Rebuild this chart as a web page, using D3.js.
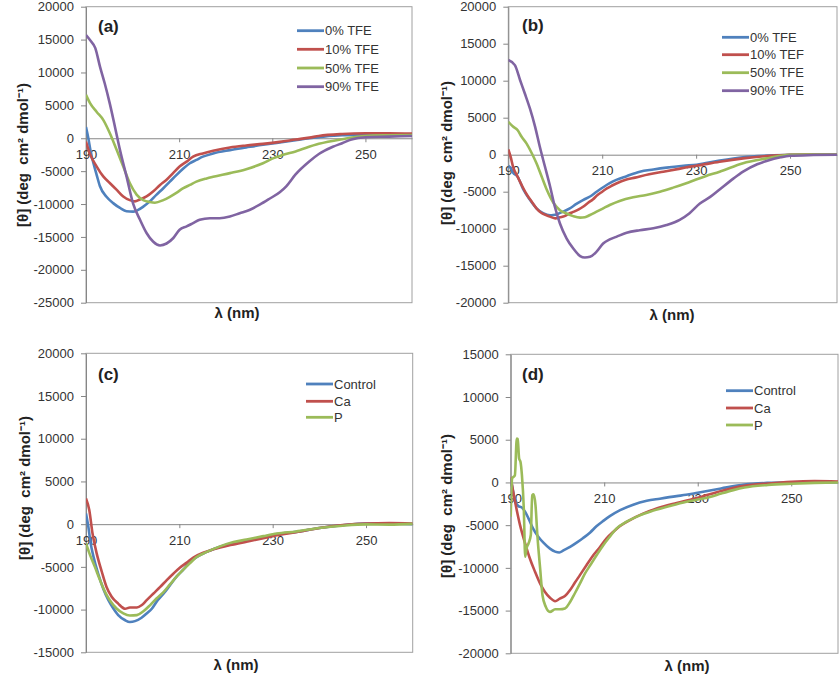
<!DOCTYPE html>
<html><head><meta charset="utf-8">
<script src="https://cdn.jsdelivr.net/npm/d3@7"></script>
<style>
body{margin:0;background:#fff;}
svg{display:block;font-family:"Liberation Sans",Arial,sans-serif;}
</style></head>
<body><svg id="c" width="840" height="675"></svg>
<script>
// ---------------- DATA ----------------
const xTicks = [190, 210, 230, 250];
const xDomain = [190, 260];

const aNames = ["0% TFE", "10% TFE", "50% TFE", "90% TFE"];
const bNames = ["0% TFE", "10% TEF", "50% TFE", "90% TFE"];
const cNames = ["Control", "Ca", "P"];
const dNames = ["Control", "Ca", "P"];

const aYTicks = [20000,15000,10000,5000,0,-5000,-10000,-15000,-20000,-25000];
const bYTicks = [20000,15000,10000,5000,0,-5000,-10000,-15000,-20000];
const cYTicks = [20000,15000,10000,5000,0,-5000,-10000,-15000];
const dYTicks = [15000,10000,5000,0,-5000,-10000,-15000,-20000];

const aBlue = [[190,1700],[190.5,0],[191,-2000],[191.6,-3800],[192.3,-5600],[193,-7300],[194.4,-8900],[195.9,-9900],[197.3,-10600],[198.7,-11100],[200.1,-11150],[200.9,-11000],[202.3,-10400],[203.7,-9600],[205.1,-8600],[206.6,-7600],[208,-6600],[209.4,-5600],[210.9,-4600],[212.3,-3800],[213.7,-3300],[215.1,-2800],[217.3,-2300],[220.9,-1800],[224.4,-1400],[228,-1000],[231.6,-650],[235,-300],[238,0],[241,250],[245,450],[250,500],[255,550],[260,600]];
const aRed = [[190,-500],[190.8,-2300],[192.3,-4300],[193.7,-5800],[195.1,-6800],[196.6,-7850],[198,-8850],[199.4,-9400],[200.5,-9600],[201.6,-9300],[203,-8850],[204.4,-8100],[205.9,-7100],[207.3,-6300],[208.7,-5300],[210.1,-4300],[211.6,-3550],[213,-2800],[215.1,-2300],[217.3,-1900],[220.9,-1400],[224.4,-1100],[228,-850],[231.6,-550],[235,-200],[238,100],[240,350],[245,650],[250,750],[255,750],[260,700]];
const aGreen = [[190,6600],[190.9,5300],[192.3,4000],[193.7,2800],[195.1,800],[196.6,-1800],[198,-4300],[199.4,-6800],[200.9,-8600],[202.3,-9400],[203.7,-9700],[204.8,-9800],[206.6,-9400],[208,-8900],[209.4,-8300],[210.9,-7600],[212.3,-7100],[213.7,-6600],[215.9,-6100],[217.3,-5850],[220.9,-5300],[224.4,-4700],[228,-3800],[230,-3100],[232,-2600],[235,-2000],[240,-850],[245,-150],[250,350],[255,450],[260,500]];
const aPurple = [[190,15700],[190.9,14900],[192,13700],[193,10900],[194,8400],[195.1,5300],[196.2,1800],[197.3,-1800],[198.7,-5800],[200.1,-9900],[201.6,-12400],[203,-14400],[204.4,-15700],[205.9,-16300],[207.3,-16000],[208.7,-15200],[210.1,-13900],[211.6,-13400],[213,-12900],[214.4,-12400],[216.6,-12150],[218.7,-12150],[220.9,-11900],[223,-11400],[225.1,-10900],[227.3,-10100],[229.4,-9200],[231.6,-8200],[233,-7300],[235,-5500],[238,-3500],[240,-2400],[243,-1300],[245,-750],[247,-200],[250,150],[255,250],[260,350]];

const bBlue = [[190,-1500],[190.5,-1800],[191,-2400],[192,-3000],[193.2,-4700],[194.6,-6100],[196,-7250],[197.4,-7900],[198.9,-8200],[199.6,-8150],[200.5,-8000],[201.7,-7700],[203.1,-7250],[204.5,-6650],[206,-6100],[207.4,-5650],[208.8,-5000],[210.2,-4400],[211.6,-3850],[213,-3400],[215.2,-2900],[218,-2300],[220.9,-2000],[223.7,-1750],[227.3,-1500],[230.1,-1350],[235,-800],[240,-350],[245,-130],[250,0],[255,30],[260,30]];
const bRed = [[190,700],[190.5,-300],[191,-1600],[192,-3000],[193,-4300],[194,-5450],[195,-6350],[196,-7250],[197,-7850],[198,-8150],[199,-8400],[200,-8600],[201,-8450],[202,-8300],[203,-7950],[204,-7700],[205,-7400],[206,-7000],[207,-6500],[208,-6050],[209,-5450],[210,-5000],[211,-4550],[212,-4200],[213,-3900],[215,-3400],[217,-3100],[220,-2650],[223,-2300],[226,-1950],[228,-1700],[230,-1500],[235,-950],[240,-500],[245,-180],[250,0],[255,30],[260,30]];
const bGreen = [[190,4450],[191,3800],[192,3300],[192.8,2450],[193.9,1500],[195,200],[196,-1150],[197.1,-2950],[198.2,-4750],[199.6,-6500],[201,-7500],[202.4,-7950],[203.8,-8300],[205.3,-8500],[206.3,-8450],[207.4,-8150],[208.8,-7700],[210.2,-7250],[211.6,-6800],[213.7,-6250],[216.6,-5750],[219.4,-5450],[222.3,-5000],[225.1,-4450],[227.9,-3850],[230,-3350],[232,-2900],[235,-2300],[240,-1150],[245,-500],[248,-150],[250,0],[255,30],[260,30]];
const bPurple = [[190,12800],[191.4,12100],[192.5,10100],[193.5,8300],[194.6,6250],[195.7,3800],[196.7,1100],[197.8,-1600],[198.9,-4300],[199.9,-7000],[201,-9300],[202.4,-11300],[203.8,-12650],[205.3,-13700],[206.3,-13900],[207.4,-13800],[208.8,-13100],[210.2,-12000],[211.6,-11450],[213,-11100],[215.2,-10550],[218,-10200],[220.9,-9950],[223.7,-9500],[226.5,-8800],[228.6,-7900],[230.8,-6600],[233,-5700],[235,-4700],[238,-3200],[240,-2300],[243,-1300],[245,-850],[248,-350],[250,-150],[255,-50],[260,0]];

const cBlue = [[190,1250],[190.5,-300],[191,-2250],[191.6,-3800],[192.6,-5800],[193.7,-7550],[194.8,-8900],[195.9,-9900],[196.9,-10650],[198.4,-11250],[199.4,-11450],[200.5,-11350],[201.9,-10950],[203,-10450],[204.1,-9900],[205.1,-9100],[206.6,-8150],[208,-7150],[209.4,-6150],[210.9,-5300],[212.3,-4400],[213.7,-3850],[215.9,-3250],[218.7,-2650],[221.6,-2200],[224.4,-1900],[228,-1500],[230.9,-1150],[235,-900],[240,-450],[245,-120],[250,80],[255,80],[260,0]];
const cRed = [[190,3000],[190.7,1650],[191.4,-1100],[192.3,-3450],[193.4,-5600],[194.4,-7350],[195.5,-8500],[196.9,-9300],[198.4,-9900],[199.4,-9750],[200.9,-9750],[201.9,-9500],[203,-8900],[204.4,-8150],[205.9,-7350],[207.3,-6550],[208.7,-5800],[210.1,-5100],[211.6,-4500],[213,-3900],[215.1,-3350],[217.3,-2950],[220.9,-2450],[224.4,-2050],[228,-1650],[230.9,-1300],[235,-950],[240,-450],[245,-100],[250,80],[255,120],[260,80]];
const cGreen = [[190,-2250],[190.9,-3650],[191.9,-5000],[193,-6550],[194.1,-7950],[195.1,-8900],[196.6,-9900],[198,-10450],[199.4,-10700],[200.9,-10650],[202.3,-10200],[203.7,-9500],[205.1,-8700],[206.6,-7950],[208,-7050],[209.4,-6150],[210.9,-5300],[212.3,-4550],[213.7,-3850],[215.9,-3250],[218.7,-2600],[221.6,-2100],[224.4,-1800],[228,-1400],[230.9,-1100],[235,-850],[240,-450],[245,-180],[250,-30],[255,-50],[260,30]];

const dBlue = [[190,500],[190.5,-1000],[190.9,-2050],[191.6,-2750],[192.4,-2950],[193.1,-3450],[193.8,-4200],[194.8,-5400],[195.9,-6350],[197,-7050],[198.4,-7750],[199.5,-8100],[200.4,-8200],[201.3,-7950],[202.7,-7550],[204.1,-7050],[205.5,-6500],[207,-5850],[208.4,-5100],[209.8,-4500],[211.2,-3950],[213.4,-3250],[216.2,-2600],[219.1,-2150],[221.9,-1900],[225.5,-1600],[227.5,-1450],[230,-1200],[235,-700],[240,-250],[245,-50],[250,30],[255,60],[260,30]];
const dRed = [[190,650],[190.6,-1300],[191.3,-3250],[192,-5000],[193.1,-7150],[194.1,-8900],[195.2,-10450],[196.3,-11850],[197.3,-12800],[198.4,-13500],[199.5,-13900],[200.5,-13600],[201.6,-13300],[202.7,-12600],[203.7,-11750],[204.8,-10850],[206.2,-9700],[207.7,-8500],[209.1,-7550],[210.5,-6550],[211.9,-5800],[213.4,-5100],[215.5,-4400],[218.3,-3650],[221.2,-3050],[225.5,-2400],[230,-1800],[235,-1000],[240,-400],[245,-120],[250,80],[255,150],[260,100]];
const dGreen = [[190,-4000],[190.3,450],[190.6,650],[190.9,850],[191.3,5150],[191.5,5100],[191.8,2800],[192.1,2400],[192.4,850],[192.8,-3050],[193.1,-8700],[193.4,-7700],[193.8,-7150],[194.3,-6150],[194.6,-1500],[194.9,-1400],[195.3,-2650],[195.7,-6150],[196.3,-10100],[196.8,-13200],[197.5,-14550],[198.4,-15150],[199.5,-14850],[200.5,-14850],[201.6,-14750],[202.7,-14000],[203.7,-13000],[204.8,-11850],[205.9,-10650],[207,-9700],[208.4,-8500],[209.8,-7350],[211.2,-6350],[212.6,-5400],[214.8,-4600],[217.6,-3850],[220.5,-3300],[224,-2750],[227.6,-2250],[230,-2000],[232.6,-1700],[235,-1300],[237.6,-900],[240,-600],[245,-300],[250,-150],[255,-50],[260,0]];

// ---------------- LAYOUT / STYLE ----------------
const colors4 = ["#4f81bd", "#c0504d", "#9bbb59", "#8064a2"];
const panels = [
  {tag:"(a)", names:aNames, series:[aBlue,aRed,aGreen,aPurple], yTicks:aYTicks,
   L:86, R:412, T:6.7, B:302.7, tagX:98, tagY:32, ytX:23, ytY:155, xtX:237, xtY:318,
   legX:297, legY:[30.7,49.3,68,86.7]},
  {tag:"(b)", names:bNames, series:[bBlue,bRed,bGreen,bPurple], yTicks:bYTicks,
   L:508.3, R:837, T:6.7, B:302.7, tagX:522, tagY:31, ytX:447, ytY:153, xtX:672, xtY:320,
   legX:722, legY:[37.3,54.7,72.7,90.7]},
  {tag:"(c)", names:cNames, series:[cBlue,cRed,cGreen], yTicks:cYTicks,
   L:86, R:412.7, T:353.3, B:652.3, tagX:98, tagY:380, ytX:25, ytY:488, xtX:236, xtY:670,
   legX:306, legY:[384,401.3,417.3]},
  {tag:"(d)", names:dNames, series:[dBlue,dRed,dGreen], yTicks:dYTicks,
   L:510.7, R:838, T:354.3, B:653.3, tagX:522, tagY:380, ytX:447, ytY:506, xtX:687, xtY:671,
   legX:726, legY:[390.7,408,425]}
];

const svg = d3.select("#c");
const fmt = d => String(d);

panels.forEach((p, i) => {
  const g = svg.append("g");
  const yDom = [d3.min(p.yTicks), d3.max(p.yTicks)];
  const x = d3.scaleLinear().domain(xDomain).range([p.L, p.R]);
  const y = d3.scaleLinear().domain(yDom).range([p.B, p.T]);

  // plot frame
  g.append("rect").attr("x", p.L).attr("y", p.T).attr("width", p.R - p.L).attr("height", p.B - p.T)
    .attr("fill", "none").attr("stroke", "#a0a0a0").attr("stroke-width", 1);

  // y axis
  const ya = g.append("g").attr("transform", `translate(${p.L},0)`)
    .call(d3.axisLeft(y).tickValues(p.yTicks).tickFormat(fmt).tickSize(5).tickSizeOuter(0).tickPadding(7));
  ya.select(".domain").attr("stroke", "#868686");
  ya.selectAll(".tick line").attr("stroke", "#868686");
  ya.selectAll("text").attr("font-size", 13).attr("fill", "#333");

  // x axis on zero line
  const xa = g.append("g").attr("transform", `translate(0,${y(0)})`)
    .call(d3.axisBottom(x).tickValues(xTicks).tickFormat(fmt).tickSize(4).tickSizeOuter(0).tickPadding(7.5));
  xa.select(".domain").attr("stroke", "#868686");
  xa.selectAll(".tick line").attr("stroke", "#868686");
  xa.selectAll("text").attr("font-size", 13).attr("fill", "#333");

  // clip
  const cid = "clip" + i;
  g.append("clipPath").attr("id", cid).append("rect")
    .attr("x", p.L).attr("y", p.T).attr("width", p.R - p.L).attr("height", p.B - p.T);

  const line = d3.line().x(d => x(d[0])).y(d => y(d[1])).curve(d3.curveMonotoneX);
  const lg = g.append("g").attr("clip-path", `url(#${cid})`);
  p.series.forEach((s, k) => {
    lg.append("path").datum(s).attr("d", line).attr("fill", "none")
      .attr("stroke", colors4[k]).attr("stroke-width", 2.6).attr("stroke-linejoin", "round");
  });

  // legend
  p.names.forEach((n, k) => {
    g.append("line").attr("x1", p.legX).attr("x2", p.legX + 27)
      .attr("y1", p.legY[k]).attr("y2", p.legY[k]).attr("stroke", colors4[k]).attr("stroke-width", 2.8);
    g.append("text").attr("x", p.legX + 28).attr("y", p.legY[k] + 4.6)
      .attr("font-size", 13).attr("fill", "#333").text(n);
  });

  // panel tag
  g.append("text").attr("x", p.tagX).attr("y", p.tagY).attr("font-size", 17)
    .attr("font-weight", "bold").attr("fill", "#222").text(p.tag);

  // axis titles
  g.append("text").attr("x", p.xtX).attr("y", p.xtY).attr("text-anchor", "middle")
    .attr("font-size", 15).attr("font-weight", "bold").attr("fill", "#222").text("λ (nm)");
  g.append("text").attr("transform", `translate(${p.ytX},${p.ytY}) rotate(-90)`)
    .attr("text-anchor", "middle").attr("dy", "0.35em")
    .attr("font-size", 15).attr("font-weight", "bold").attr("fill", "#222")
    .attr("xml:space", "preserve").text("[θ] (deg  cm² dmol⁻¹)");
});
</script></body></html>
